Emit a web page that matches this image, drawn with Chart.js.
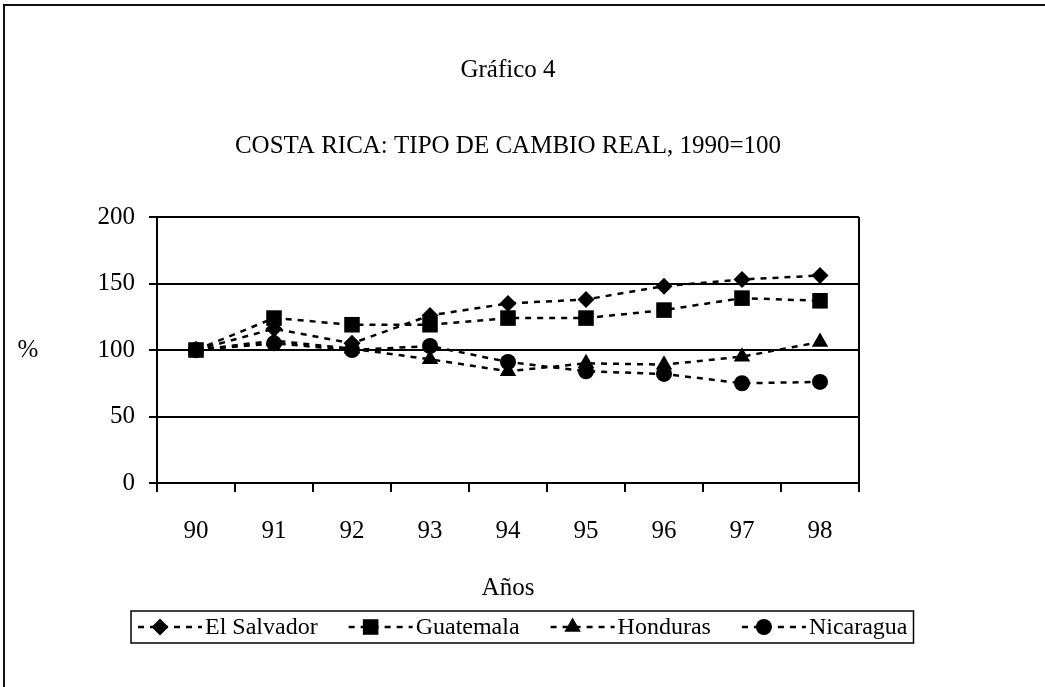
<!DOCTYPE html>
<html>
<head>
<meta charset="utf-8">
<title>Gráfico 4</title>
<script src="https://cdn.jsdelivr.net/npm/chart.js@4.4.0/dist/chart.umd.min.js"></script>
<style>
    html, body { margin: 0; padding: 0; background: #fff; overflow: hidden; }
    #wrap { position: relative; width: 1045px; height: 687px; }
    #frame {
        position: absolute; left: 3px; top: 4px;
        width: 1100px; height: 800px;
        border: 2px solid #111;
    }
    #chart { position: absolute; left: 0; top: 0; }
</style>
</head>
<body>
<div id="wrap">
    <div id="frame"></div>
    <canvas id="chart" width="1045" height="687"></canvas>
</div>
<script>
// Data
const years = ['90', '91', '92', '93', '94', '95', '96', '97', '98'];
const elSalvador = [100, 116, 105, 126, 135, 138, 148, 153, 156];
const guatemala  = [100, 124, 119, 119, 124, 124, 130, 139, 137];
const honduras   = [100, 107, 101, 93, 84, 90, 89, 95, 106];
const nicaragua  = [100, 105, 100, 103, 91, 84, 82, 75, 76];
const yTicks = [0, 50, 100, 150, 200];

const serif = 'Liberation Serif';
Chart.defaults.color = '#000';
Chart.defaults.font.family = serif;

function series(label, data, style, radius) {
    return {
        label: label,
        data: data,
        borderColor: '#000',
        backgroundColor: '#000',
        borderWidth: 2.5,
        borderDash: [6, 6],
        pointStyle: style,
        pointRadius: radius,
        pointHoverRadius: radius,
        pointBorderWidth: 0,
        pointBackgroundColor: '#000',
        tension: 0
    };
}

// "%" label next to the 100 tick
const percentLabel = {
    id: 'percentLabel',
    afterDraw(chart) {
        const ctx = chart.ctx;
        const y = chart.scales.y.getPixelForValue(100);
        ctx.save();
        ctx.font = '25px ' + serif;
        ctx.fillStyle = '#000';
        ctx.textAlign = 'center';
        ctx.textBaseline = 'middle';
        ctx.fillText('%', 28, y);
        ctx.restore();
    }
};

// right edge of the plot area
const plotBorder = {
    id: 'plotBorder',
    beforeDatasetsDraw(chart) {
        const { ctx, chartArea } = chart;
        ctx.save();
        ctx.strokeStyle = '#000';
        ctx.lineWidth = 2;
        ctx.beginPath();
        ctx.moveTo(chartArea.right, chartArea.top);
        ctx.lineTo(chartArea.right, chartArea.bottom);
        ctx.stroke();
        ctx.restore();
    }
};

// Excel-style legend: dashed line with the marker, then the name
const dashLegend = {
    id: 'dashLegend',
    afterDraw(chart) {
        const ctx = chart.ctx;
        const top = 611, height = 32;
        const cy = top + height / 2;
        ctx.save();
        ctx.font = '24px ' + serif;
        ctx.textBaseline = 'middle';
        ctx.textAlign = 'left';
        let x = 138;
        const left = x - 7;
        chart.data.datasets.forEach((ds, i) => {
            ctx.strokeStyle = '#000';
            ctx.lineWidth = 2.5;
            ctx.setLineDash([6, 6]);
            ctx.beginPath();
            ctx.moveTo(x, cy);
            ctx.lineTo(x + 64, cy);
            ctx.stroke();
            ctx.setLineDash([]);
            ctx.fillStyle = '#000';
            Chart.helpers.drawPoint(ctx, {
                pointStyle: ds.pointStyle,
                radius: ds.pointRadius,
                rotation: 0,
                borderWidth: 0
            }, x + 22, cy);
            ctx.fillStyle = '#000';
            ctx.fillText(ds.label, x + 67, cy + 1);
            const w = ctx.measureText(ds.label).width;
            x = x + 67 + w + 31;
        });
        const right = x - 31 + 6;
        ctx.strokeStyle = '#000';
        ctx.lineWidth = 1.5;
        ctx.strokeRect(left, top, right - left, height);
        ctx.restore();
    }
};

const ctx = document.getElementById('chart').getContext('2d');
new Chart(ctx, {
    type: 'line',
    data: {
        labels: years,
        datasets: [
            series('El Salvador', elSalvador, 'rectRot', 8.5),
            series('Guatemala', guatemala, 'rect', 11),
            series('Honduras', honduras, 'triangle', 9.5),
            series('Nicaragua', nicaragua, 'circle', 8)
        ]
    },
    options: {
        responsive: false,
        animation: false,
        layout: { padding: { left: 0, right: 186, top: 0, bottom: 84 } },
        plugins: {
            legend: { display: false },
            tooltip: { enabled: false },
            title: {
                display: true,
                fullSize: false,
                text: 'Gráfico 4',
                font: { family: serif, size: 25, weight: 'normal' },
                color: '#000',
                padding: { top: 55, bottom: 0 }
            },
            subtitle: {
                display: true,
                fullSize: false,
                text: 'COSTA RICA: TIPO DE CAMBIO REAL, 1990=100',
                font: { family: serif, size: 25, weight: 'normal' },
                color: '#000',
                padding: { top: 46, bottom: 56 }
            }
        },
        scales: {
            x: {
                offset: true,
                grid: {
                    offset: true,
                    drawOnChartArea: false,
                    color: '#000',
                    lineWidth: 2,
                    tickLength: 9
                },
                border: { display: true, color: '#000', width: 2 },
                ticks: {
                    font: { family: serif, size: 25 },
                    color: '#000',
                    padding: 24,
                    maxRotation: 0
                },
                title: {
                    display: true,
                    text: 'Años',
                    font: { family: serif, size: 25 },
                    color: '#000',
                    padding: { top: 0, bottom: 0 }
                },
                afterFit(scale) { scale.height = 120; }
            },
            y: {
                min: yTicks[0],
                max: yTicks[yTicks.length - 1],
                afterBuildTicks(scale) { scale.ticks = yTicks.map(v => ({ value: v })); },
                grid: {
                    color: '#000',
                    lineWidth: 2,
                    tickLength: 8
                },
                border: { display: true, color: '#000', width: 2 },
                ticks: {
                    font: { family: serif, size: 25 },
                    color: '#000',
                    padding: 14
                },
                afterFit(scale) { scale.width = 157; }
            }
        }
    },
    plugins: [percentLabel, plotBorder, dashLegend]
});
</script>
</body>
</html>
